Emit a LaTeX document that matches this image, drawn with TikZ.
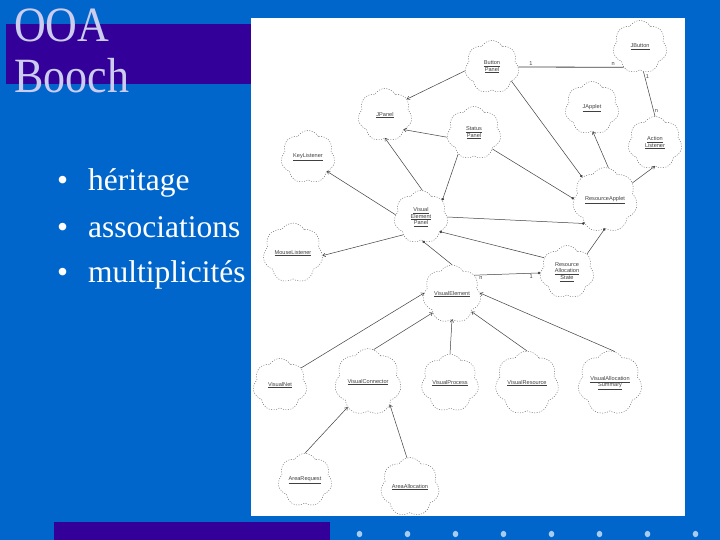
\documentclass[tikz,border=0pt]{standalone}
\usepackage{fontspec}
\setmainfont{Liberation Serif}
\setsansfont{Liberation Sans}
\usetikzlibrary{shapes.symbols,arrows.meta}
\definecolor{bg}{HTML}{0066CC}
\definecolor{deep}{HTML}{330099}
\definecolor{titlec}{HTML}{CCCCEE}
\definecolor{dotc}{HTML}{A8CCF0}
\definecolor{ink}{HTML}{404040}
\newcommand\cu[1]{\underline{#1}}
\begin{document}
\begin{tikzpicture}[x=1pt,y=-1pt,
  cls/.style={shape=cloud, cloud puffs=7, cloud puff arc=120, aspect=1, draw=ink!80,
    dash pattern=on 1pt off 1.5pt, line width=0.45pt, minimum width=54pt, minimum height=53pt,
    inner sep=0pt, font=\fontsize{5.6}{6.4}\selectfont\sffamily, text=ink, align=center},
  link/.style={draw=ink, line width=0.5pt},
  inh/.style={link, -{To[length=3pt,width=4pt]}},
  use/.style={link, -{Circle[length=2.6pt]}},
  mult/.style={font=\fontsize{5.6}{6.4}\selectfont\sffamily, text=ink, inner sep=1pt},
  title/.style={anchor=base west, text=titlec, font=\fontsize{44}{50}\selectfont, inner sep=0pt},
  item/.style={anchor=base west, text=white, font=\fontsize{31.5}{36}\selectfont, inner sep=0pt},
  dot/.style={fill=dotc, draw=none}]
\useasboundingbox (0,0) rectangle (720,540);
\fill[bg] (0,0) rectangle (720,540);
\fill[deep] (6,24) rectangle (252,84);
\fill[deep] (54,522) rectangle (330,540);
\fill[white] (251,18) rectangle (685,516);
\foreach \i in {0,...,7} \fill[dot] (359.5+48*\i,534) ellipse (2.8 and 3.2);
\node[title] (t1) at (14,42) {\scalebox{1}[1.12]{OOA}};
\node[title] (t2) at (14,93) {\scalebox{1}[1.12]{Booch}};
\node[item] (b1) at (57,191) {\makebox[31pt][l]{•}héritage};
\node[item] (b2) at (57,237) {\makebox[31pt][l]{•}associations};
\node[item] (b3) at (57,282) {\makebox[31pt][l]{•}multiplicités};
% classes
\node[cls] (bp) at (492,67) {\cu{Button}\\\cu{Panel}};
\node[cls] (jb) at (640,47) {\cu{JButton}};
\node[cls] (jp) at (385,115) {\cu{JPanel}};
\node[cls] (sp) at (474,133) {\cu{Status}\\\cu{Panel}};
\node[cls] (ja) at (592,108) {\cu{JApplet}};
\node[cls] (al) at (655,143) {\cu{Action}\\\cu{Listener}};
\node[cls] (kl) at (308,157) {\cu{KeyListener}};
\node[cls] (vep) at (421,217) {\cu{Visual}\\\cu{Element}\\\cu{Panel}};
\node[cls] (ra) at (605,200) {\cu{ResourceApplet}};
\node[cls] (ml) at (293,253) {\cu{MouseListener}};
\node[cls] (ras) at (567,272) {Resource\\\cu{Allocation}\\\cu{State}};
\node[cls] (ve) at (452,294) {\cu{VisualElement}};
\node[cls] (vn) at (280,385) {\cu{VisualNet}};
\node[cls] (vc) at (368,382) {\cu{VisualConnector}};
\node[cls] (vp) at (450,383) {\cu{VisualProcess}};
\node[cls] (vr) at (527,383) {\cu{VisualResource}};
\node[cls] (vas) at (610,383) {\cu{VisualAllocation}\\\cu{Summary}};
\node[cls] (arq) at (305,480) {\cu{AreaRequest}};
\node[cls] (aal) at (410,487) {\cu{AreaAllocation}};
% connectors
\draw[link, line width=0.8pt] (bp.0) -- node[mult, pos=0.12, above] {1} node[mult, pos=0.9, above] {n} (jb.231);
\draw[inh] (bp.188) -- (jp.36);
\draw[use] (bp.324) -- (ra.135);
\draw[link] (jb.278) -- node[mult, pos=0.1, right] {1} node[mult, pos=0.88, right] {n} (al.90);
\draw[inh] (ra.84) -- (ja.272);
\draw[inh] (sp.189) -- (jp.322);
\draw[inh] (vep.87) -- (jp.270);
\draw[use] (sp.233) -- (vep.38);
\draw[use] (sp.319) -- (ra.178);
\draw[inh] (vep.175) -- (kl.323);
\draw[use] (vep.0) -- (ra.229);
\draw[inh] (vep.225) -- (ml.355);
\draw[use] (ras.148) -- (vep.322);
\draw[use] (ras.42) -- (ra.270);
\draw[inh] (ra.32) -- (al.270);
\draw[use] (ve.90) -- (vep.274);
\draw[use] (ve.40) -- node[mult, pos=0.1, below] {n} node[mult, pos=0.86, below] {1} (ras.182);
\draw[inh] (vn.39) -- (ve.178);
\draw[inh] (vc.80) -- (ve.224);
\draw[inh] (vp.90) -- (ve.270);
\draw[inh] (vr.90) -- (ve.318);
\draw[inh] (vas.81) -- (ve.2);
\draw[inh] (arq.90) -- (vc.231);
\draw[inh] (aal.96) -- (vc.314);
\end{tikzpicture}
\end{document}
